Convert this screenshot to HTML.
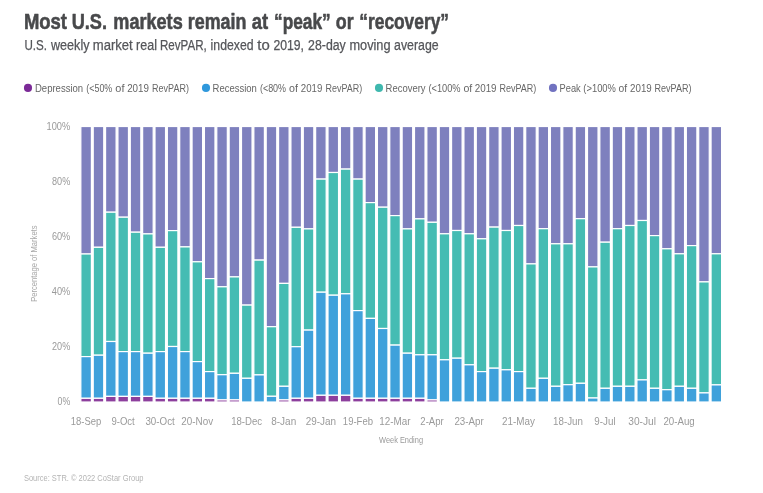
<!DOCTYPE html>
<html><head><meta charset="utf-8"><title>Most U.S. markets remain at peak or recovery</title>
<style>
html,body{margin:0;padding:0;background:#fff;}
body{width:763px;height:493px;overflow:hidden;font-family:"Liberation Sans",sans-serif;}
svg{display:block;filter:blur(0.3px);font-family:"Liberation Sans",sans-serif;}
</style></head><body>
<svg width="763" height="493" viewBox="0 0 763 493">
<rect x="0" y="0" width="763" height="493" fill="#ffffff"/>
<g stroke="#48494b" stroke-width="0.55" stroke-linejoin="round">
<text x="23.91" y="28.55" font-size="21.8" font-weight="bold" fill="#48494b" text-anchor="start" textLength="43.11" lengthAdjust="spacingAndGlyphs">Most</text>
<text x="71.71" y="28.55" font-size="21.8" font-weight="bold" fill="#48494b" text-anchor="start" textLength="35.31" lengthAdjust="spacingAndGlyphs">U.S.</text>
<text x="113.31" y="28.55" font-size="21.8" font-weight="bold" fill="#48494b" text-anchor="start" textLength="69.41" lengthAdjust="spacingAndGlyphs">markets</text>
<text x="187.81" y="28.55" font-size="21.8" font-weight="bold" fill="#48494b" text-anchor="start" textLength="58.61" lengthAdjust="spacingAndGlyphs">remain</text>
<text x="251.71" y="28.55" font-size="21.8" font-weight="bold" fill="#48494b" text-anchor="start" textLength="16.41" lengthAdjust="spacingAndGlyphs">at</text>
<text x="274.01" y="28.55" font-size="21.8" font-weight="bold" fill="#48494b" text-anchor="start" textLength="56.71" lengthAdjust="spacingAndGlyphs">“peak”</text>
<text x="335.81" y="28.55" font-size="21.8" font-weight="bold" fill="#48494b" text-anchor="start" textLength="17.81" lengthAdjust="spacingAndGlyphs">or</text>
<text x="359.31" y="28.55" font-size="21.8" font-weight="bold" fill="#48494b" text-anchor="start" textLength="89.71" lengthAdjust="spacingAndGlyphs">“recovery”</text>
</g>
<g stroke="#55565a" stroke-width="0.25">
<text x="24.51" y="49.5" font-size="13.8" font-weight="normal" fill="#55565a" text-anchor="start" textLength="22.54" lengthAdjust="spacingAndGlyphs">U.S.</text>
<text x="51.01" y="49.5" font-size="13.8" font-weight="normal" fill="#55565a" text-anchor="start" textLength="38.53" lengthAdjust="spacingAndGlyphs">weekly</text>
<text x="92.81" y="49.5" font-size="13.8" font-weight="normal" fill="#55565a" text-anchor="start" textLength="39.93" lengthAdjust="spacingAndGlyphs">market</text>
<text x="136.11" y="49.5" font-size="13.8" font-weight="normal" fill="#55565a" text-anchor="start" textLength="20.84" lengthAdjust="spacingAndGlyphs">real</text>
<text x="160.01" y="49.5" font-size="13.8" font-weight="normal" fill="#55565a" text-anchor="start" textLength="46.73" lengthAdjust="spacingAndGlyphs">RevPAR,</text>
<text x="210.61" y="49.5" font-size="13.8" font-weight="normal" fill="#55565a" text-anchor="start" textLength="42.93" lengthAdjust="spacingAndGlyphs">indexed</text>
<text x="257.31" y="49.5" font-size="13.8" font-weight="normal" fill="#55565a" text-anchor="start" textLength="12.44" lengthAdjust="spacingAndGlyphs">to</text>
<text x="273.41" y="49.5" font-size="13.8" font-weight="normal" fill="#55565a" text-anchor="start" textLength="30.54" lengthAdjust="spacingAndGlyphs">2019,</text>
<text x="308.11" y="49.5" font-size="13.8" font-weight="normal" fill="#55565a" text-anchor="start" textLength="37.63" lengthAdjust="spacingAndGlyphs">28-day</text>
<text x="349.41" y="49.5" font-size="13.8" font-weight="normal" fill="#55565a" text-anchor="start" textLength="41.13" lengthAdjust="spacingAndGlyphs">moving</text>
<text x="394.11" y="49.5" font-size="13.8" font-weight="normal" fill="#55565a" text-anchor="start" textLength="44.53" lengthAdjust="spacingAndGlyphs">average</text>
</g>
<g>
<circle cx="28.0" cy="87.9" r="4.05" fill="#7b2a97"/>
<text x="34.95" y="91.7" font-size="11" font-weight="normal" fill="#666666" text-anchor="start" textLength="48.23" lengthAdjust="spacingAndGlyphs">Depression</text>
<text x="86.25" y="91.7" font-size="11" font-weight="normal" fill="#666666" text-anchor="start" textLength="26.02" lengthAdjust="spacingAndGlyphs">(&lt;50%</text>
<text x="115.35" y="91.7" font-size="11" font-weight="normal" fill="#666666" text-anchor="start" textLength="9.12" lengthAdjust="spacingAndGlyphs">of</text>
<text x="127.15" y="91.7" font-size="11" font-weight="normal" fill="#666666" text-anchor="start" textLength="21.82" lengthAdjust="spacingAndGlyphs">2019</text>
<text x="152.05" y="91.7" font-size="11" font-weight="normal" fill="#666666" text-anchor="start" textLength="36.83" lengthAdjust="spacingAndGlyphs">RevPAR)</text>
<circle cx="206.0" cy="87.9" r="4.05" fill="#2f98dc"/>
<text x="212.55" y="91.7" font-size="11" font-weight="normal" fill="#666666" text-anchor="start" textLength="44.33" lengthAdjust="spacingAndGlyphs">Recession</text>
<text x="259.95" y="91.7" font-size="11" font-weight="normal" fill="#666666" text-anchor="start" textLength="26.12" lengthAdjust="spacingAndGlyphs">(&lt;80%</text>
<text x="289.05" y="91.7" font-size="11" font-weight="normal" fill="#666666" text-anchor="start" textLength="8.92" lengthAdjust="spacingAndGlyphs">of</text>
<text x="300.85" y="91.7" font-size="11" font-weight="normal" fill="#666666" text-anchor="start" textLength="21.52" lengthAdjust="spacingAndGlyphs">2019</text>
<text x="325.45" y="91.7" font-size="11" font-weight="normal" fill="#666666" text-anchor="start" textLength="36.73" lengthAdjust="spacingAndGlyphs">RevPAR)</text>
<circle cx="379.0" cy="87.9" r="4.05" fill="#3fb8ae"/>
<text x="385.55" y="91.7" font-size="11" font-weight="normal" fill="#666666" text-anchor="start" textLength="40.03" lengthAdjust="spacingAndGlyphs">Recovery</text>
<text x="428.45" y="91.7" font-size="11" font-weight="normal" fill="#666666" text-anchor="start" textLength="32.12" lengthAdjust="spacingAndGlyphs">(&lt;100%</text>
<text x="463.45" y="91.7" font-size="11" font-weight="normal" fill="#666666" text-anchor="start" textLength="8.82" lengthAdjust="spacingAndGlyphs">of</text>
<text x="474.75" y="91.7" font-size="11" font-weight="normal" fill="#666666" text-anchor="start" textLength="21.82" lengthAdjust="spacingAndGlyphs">2019</text>
<text x="499.45" y="91.7" font-size="11" font-weight="normal" fill="#666666" text-anchor="start" textLength="36.83" lengthAdjust="spacingAndGlyphs">RevPAR)</text>
<circle cx="553.0" cy="87.9" r="4.05" fill="#7172c0"/>
<text x="559.55" y="91.7" font-size="11" font-weight="normal" fill="#666666" text-anchor="start" textLength="21.12" lengthAdjust="spacingAndGlyphs">Peak</text>
<text x="583.35" y="91.7" font-size="11" font-weight="normal" fill="#666666" text-anchor="start" textLength="32.52" lengthAdjust="spacingAndGlyphs">(&gt;100%</text>
<text x="618.45" y="91.7" font-size="11" font-weight="normal" fill="#666666" text-anchor="start" textLength="8.62" lengthAdjust="spacingAndGlyphs">of</text>
<text x="630.05" y="91.7" font-size="11" font-weight="normal" fill="#666666" text-anchor="start" textLength="21.72" lengthAdjust="spacingAndGlyphs">2019</text>
<text x="654.55" y="91.7" font-size="11" font-weight="normal" fill="#666666" text-anchor="start" textLength="36.93" lengthAdjust="spacingAndGlyphs">RevPAR)</text>
</g>
<g stroke="#ffffff" stroke-width="1.2">
<rect x="80.85" y="126.5" width="10.55" height="127.5" fill="#7e80be"/><rect x="80.85" y="254.0" width="10.55" height="102.6" fill="#45bcb3"/><rect x="80.85" y="356.6" width="10.55" height="41.7" fill="#3fa1db"/><rect x="80.85" y="398.3" width="10.55" height="3.7" fill="#8d3f9d"/>
<rect x="93.21" y="126.5" width="10.55" height="120.8" fill="#7e80be"/><rect x="93.21" y="247.3" width="10.55" height="107.9" fill="#45bcb3"/><rect x="93.21" y="355.2" width="10.55" height="43.1" fill="#3fa1db"/><rect x="93.21" y="398.3" width="10.55" height="3.7" fill="#8d3f9d"/>
<rect x="105.56" y="126.5" width="10.55" height="85.7" fill="#7e80be"/><rect x="105.56" y="212.2" width="10.55" height="129.3" fill="#45bcb3"/><rect x="105.56" y="341.5" width="10.55" height="54.9" fill="#3fa1db"/><rect x="105.56" y="396.4" width="10.55" height="5.6" fill="#8d3f9d"/>
<rect x="117.92" y="126.5" width="10.55" height="90.7" fill="#7e80be"/><rect x="117.92" y="217.2" width="10.55" height="134.4" fill="#45bcb3"/><rect x="117.92" y="351.6" width="10.55" height="44.8" fill="#3fa1db"/><rect x="117.92" y="396.4" width="10.55" height="5.6" fill="#8d3f9d"/>
<rect x="130.28" y="126.5" width="10.55" height="105.7" fill="#7e80be"/><rect x="130.28" y="232.2" width="10.55" height="119.4" fill="#45bcb3"/><rect x="130.28" y="351.6" width="10.55" height="44.8" fill="#3fa1db"/><rect x="130.28" y="396.4" width="10.55" height="5.6" fill="#8d3f9d"/>
<rect x="142.63" y="126.5" width="10.55" height="107.4" fill="#7e80be"/><rect x="142.63" y="233.9" width="10.55" height="119.3" fill="#45bcb3"/><rect x="142.63" y="353.2" width="10.55" height="43.2" fill="#3fa1db"/><rect x="142.63" y="396.4" width="10.55" height="5.6" fill="#8d3f9d"/>
<rect x="154.99" y="126.5" width="10.55" height="120.8" fill="#7e80be"/><rect x="154.99" y="247.3" width="10.55" height="104.3" fill="#45bcb3"/><rect x="154.99" y="351.6" width="10.55" height="46.7" fill="#3fa1db"/><rect x="154.99" y="398.3" width="10.55" height="3.7" fill="#8d3f9d"/>
<rect x="167.35" y="126.5" width="10.55" height="104.1" fill="#7e80be"/><rect x="167.35" y="230.6" width="10.55" height="115.9" fill="#45bcb3"/><rect x="167.35" y="346.5" width="10.55" height="51.8" fill="#3fa1db"/><rect x="167.35" y="398.3" width="10.55" height="3.7" fill="#8d3f9d"/>
<rect x="179.71" y="126.5" width="10.55" height="120.4" fill="#7e80be"/><rect x="179.71" y="246.9" width="10.55" height="104.7" fill="#45bcb3"/><rect x="179.71" y="351.6" width="10.55" height="46.7" fill="#3fa1db"/><rect x="179.71" y="398.3" width="10.55" height="3.7" fill="#8d3f9d"/>
<rect x="192.06" y="126.5" width="10.55" height="135.3" fill="#7e80be"/><rect x="192.06" y="261.8" width="10.55" height="99.8" fill="#45bcb3"/><rect x="192.06" y="361.6" width="10.55" height="36.7" fill="#3fa1db"/><rect x="192.06" y="398.3" width="10.55" height="3.7" fill="#8d3f9d"/>
<rect x="204.42" y="126.5" width="10.55" height="152.1" fill="#7e80be"/><rect x="204.42" y="278.6" width="10.55" height="93.0" fill="#45bcb3"/><rect x="204.42" y="371.6" width="10.55" height="26.7" fill="#3fa1db"/><rect x="204.42" y="398.3" width="10.55" height="3.7" fill="#8d3f9d"/>
<rect x="216.78" y="126.5" width="10.55" height="160.3" fill="#7e80be"/><rect x="216.78" y="286.8" width="10.55" height="87.9" fill="#45bcb3"/><rect x="216.78" y="374.7" width="10.55" height="25.2" fill="#3fa1db"/><rect x="216.78" y="399.9" width="10.55" height="2.1" fill="#8d3f9d"/>
<rect x="229.13" y="126.5" width="10.55" height="150.4" fill="#7e80be"/><rect x="229.13" y="276.9" width="10.55" height="96.4" fill="#45bcb3"/><rect x="229.13" y="373.3" width="10.55" height="26.6" fill="#3fa1db"/><rect x="229.13" y="399.9" width="10.55" height="2.1" fill="#8d3f9d"/>
<rect x="241.49" y="126.5" width="10.55" height="178.6" fill="#7e80be"/><rect x="241.49" y="305.1" width="10.55" height="73.2" fill="#45bcb3"/><rect x="241.49" y="378.3" width="10.55" height="23.7" fill="#3fa1db"/>
<rect x="253.85" y="126.5" width="10.55" height="133.6" fill="#7e80be"/><rect x="253.85" y="260.1" width="10.55" height="114.8" fill="#45bcb3"/><rect x="253.85" y="374.9" width="10.55" height="27.1" fill="#3fa1db"/>
<rect x="266.2" y="126.5" width="10.55" height="200.2" fill="#7e80be"/><rect x="266.2" y="326.7" width="10.55" height="69.6" fill="#45bcb3"/><rect x="266.2" y="396.3" width="10.55" height="5.7" fill="#3fa1db"/>
<rect x="278.56" y="126.5" width="10.55" height="156.9" fill="#7e80be"/><rect x="278.56" y="283.4" width="10.55" height="102.9" fill="#45bcb3"/><rect x="278.56" y="386.3" width="10.55" height="13.6" fill="#3fa1db"/><rect x="278.56" y="399.9" width="10.55" height="2.1" fill="#8d3f9d"/>
<rect x="290.92" y="126.5" width="10.55" height="100.8" fill="#7e80be"/><rect x="290.92" y="227.3" width="10.55" height="119.4" fill="#45bcb3"/><rect x="290.92" y="346.7" width="10.55" height="51.6" fill="#3fa1db"/><rect x="290.92" y="398.3" width="10.55" height="3.7" fill="#8d3f9d"/>
<rect x="303.28" y="126.5" width="10.55" height="102.4" fill="#7e80be"/><rect x="303.28" y="228.9" width="10.55" height="101.2" fill="#45bcb3"/><rect x="303.28" y="330.1" width="10.55" height="68.2" fill="#3fa1db"/><rect x="303.28" y="398.3" width="10.55" height="3.7" fill="#8d3f9d"/>
<rect x="315.63" y="126.5" width="10.55" height="52.6" fill="#7e80be"/><rect x="315.63" y="179.1" width="10.55" height="113.1" fill="#45bcb3"/><rect x="315.63" y="292.2" width="10.55" height="103.1" fill="#3fa1db"/><rect x="315.63" y="395.3" width="10.55" height="6.7" fill="#8d3f9d"/>
<rect x="327.99" y="126.5" width="10.55" height="46.0" fill="#7e80be"/><rect x="327.99" y="172.5" width="10.55" height="122.7" fill="#45bcb3"/><rect x="327.99" y="295.2" width="10.55" height="100.1" fill="#3fa1db"/><rect x="327.99" y="395.3" width="10.55" height="6.7" fill="#8d3f9d"/>
<rect x="340.35" y="126.5" width="10.55" height="42.6" fill="#7e80be"/><rect x="340.35" y="169.1" width="10.55" height="124.7" fill="#45bcb3"/><rect x="340.35" y="293.8" width="10.55" height="101.5" fill="#3fa1db"/><rect x="340.35" y="395.3" width="10.55" height="6.7" fill="#8d3f9d"/>
<rect x="352.7" y="126.5" width="10.55" height="52.6" fill="#7e80be"/><rect x="352.7" y="179.1" width="10.55" height="131.5" fill="#45bcb3"/><rect x="352.7" y="310.6" width="10.55" height="87.7" fill="#3fa1db"/><rect x="352.7" y="398.3" width="10.55" height="3.7" fill="#8d3f9d"/>
<rect x="365.06" y="126.5" width="10.55" height="76.1" fill="#7e80be"/><rect x="365.06" y="202.6" width="10.55" height="115.8" fill="#45bcb3"/><rect x="365.06" y="318.4" width="10.55" height="79.9" fill="#3fa1db"/><rect x="365.06" y="398.3" width="10.55" height="3.7" fill="#8d3f9d"/>
<rect x="377.42" y="126.5" width="10.55" height="80.7" fill="#7e80be"/><rect x="377.42" y="207.2" width="10.55" height="121.3" fill="#45bcb3"/><rect x="377.42" y="328.5" width="10.55" height="69.8" fill="#3fa1db"/><rect x="377.42" y="398.3" width="10.55" height="3.7" fill="#8d3f9d"/>
<rect x="389.77" y="126.5" width="10.55" height="89.1" fill="#7e80be"/><rect x="389.77" y="215.6" width="10.55" height="129.5" fill="#45bcb3"/><rect x="389.77" y="345.1" width="10.55" height="53.2" fill="#3fa1db"/><rect x="389.77" y="398.3" width="10.55" height="3.7" fill="#8d3f9d"/>
<rect x="402.13" y="126.5" width="10.55" height="102.4" fill="#7e80be"/><rect x="402.13" y="228.9" width="10.55" height="124.3" fill="#45bcb3"/><rect x="402.13" y="353.2" width="10.55" height="45.1" fill="#3fa1db"/><rect x="402.13" y="398.3" width="10.55" height="3.7" fill="#8d3f9d"/>
<rect x="414.49" y="126.5" width="10.55" height="92.4" fill="#7e80be"/><rect x="414.49" y="218.9" width="10.55" height="135.9" fill="#45bcb3"/><rect x="414.49" y="354.8" width="10.55" height="43.5" fill="#3fa1db"/><rect x="414.49" y="398.3" width="10.55" height="3.7" fill="#8d3f9d"/>
<rect x="426.85" y="126.5" width="10.55" height="95.8" fill="#7e80be"/><rect x="426.85" y="222.3" width="10.55" height="132.5" fill="#45bcb3"/><rect x="426.85" y="354.8" width="10.55" height="45.1" fill="#3fa1db"/><rect x="426.85" y="399.9" width="10.55" height="2.1" fill="#8d3f9d"/>
<rect x="439.2" y="126.5" width="10.55" height="107.3" fill="#7e80be"/><rect x="439.2" y="233.8" width="10.55" height="126.0" fill="#45bcb3"/><rect x="439.2" y="359.8" width="10.55" height="42.2" fill="#3fa1db"/>
<rect x="451.56" y="126.5" width="10.55" height="104.0" fill="#7e80be"/><rect x="451.56" y="230.5" width="10.55" height="127.7" fill="#45bcb3"/><rect x="451.56" y="358.2" width="10.55" height="43.8" fill="#3fa1db"/>
<rect x="463.92" y="126.5" width="10.55" height="107.3" fill="#7e80be"/><rect x="463.92" y="233.8" width="10.55" height="131.0" fill="#45bcb3"/><rect x="463.92" y="364.8" width="10.55" height="37.2" fill="#3fa1db"/>
<rect x="476.27" y="126.5" width="10.55" height="112.3" fill="#7e80be"/><rect x="476.27" y="238.8" width="10.55" height="132.8" fill="#45bcb3"/><rect x="476.27" y="371.6" width="10.55" height="30.4" fill="#3fa1db"/>
<rect x="488.63" y="126.5" width="10.55" height="100.6" fill="#7e80be"/><rect x="488.63" y="227.1" width="10.55" height="141.1" fill="#45bcb3"/><rect x="488.63" y="368.2" width="10.55" height="33.8" fill="#3fa1db"/>
<rect x="500.99" y="126.5" width="10.55" height="104.0" fill="#7e80be"/><rect x="500.99" y="230.5" width="10.55" height="139.3" fill="#45bcb3"/><rect x="500.99" y="369.8" width="10.55" height="32.2" fill="#3fa1db"/>
<rect x="513.35" y="126.5" width="10.55" height="99.0" fill="#7e80be"/><rect x="513.35" y="225.5" width="10.55" height="146.1" fill="#45bcb3"/><rect x="513.35" y="371.6" width="10.55" height="30.4" fill="#3fa1db"/>
<rect x="525.7" y="126.5" width="10.55" height="137.4" fill="#7e80be"/><rect x="525.7" y="263.9" width="10.55" height="124.4" fill="#45bcb3"/><rect x="525.7" y="388.3" width="10.55" height="13.7" fill="#3fa1db"/>
<rect x="538.06" y="126.5" width="10.55" height="102.2" fill="#7e80be"/><rect x="538.06" y="228.7" width="10.55" height="149.6" fill="#45bcb3"/><rect x="538.06" y="378.3" width="10.55" height="23.7" fill="#3fa1db"/>
<rect x="550.42" y="126.5" width="10.55" height="117.3" fill="#7e80be"/><rect x="550.42" y="243.8" width="10.55" height="142.5" fill="#45bcb3"/><rect x="550.42" y="386.3" width="10.55" height="15.7" fill="#3fa1db"/>
<rect x="562.77" y="126.5" width="10.55" height="117.3" fill="#7e80be"/><rect x="562.77" y="243.8" width="10.55" height="140.9" fill="#45bcb3"/><rect x="562.77" y="384.7" width="10.55" height="17.3" fill="#3fa1db"/>
<rect x="575.13" y="126.5" width="10.55" height="92.2" fill="#7e80be"/><rect x="575.13" y="218.7" width="10.55" height="164.6" fill="#45bcb3"/><rect x="575.13" y="383.3" width="10.55" height="18.7" fill="#3fa1db"/>
<rect x="587.49" y="126.5" width="10.55" height="140.4" fill="#7e80be"/><rect x="587.49" y="266.9" width="10.55" height="131.1" fill="#45bcb3"/><rect x="587.49" y="398" width="10.55" height="4.0" fill="#3fa1db"/>
<rect x="599.84" y="126.5" width="10.55" height="115.7" fill="#7e80be"/><rect x="599.84" y="242.2" width="10.55" height="146.1" fill="#45bcb3"/><rect x="599.84" y="388.3" width="10.55" height="13.7" fill="#3fa1db"/>
<rect x="612.2" y="126.5" width="10.55" height="102.2" fill="#7e80be"/><rect x="612.2" y="228.7" width="10.55" height="157.6" fill="#45bcb3"/><rect x="612.2" y="386.3" width="10.55" height="15.7" fill="#3fa1db"/>
<rect x="624.56" y="126.5" width="10.55" height="99.0" fill="#7e80be"/><rect x="624.56" y="225.5" width="10.55" height="160.8" fill="#45bcb3"/><rect x="624.56" y="386.3" width="10.55" height="15.7" fill="#3fa1db"/>
<rect x="636.91" y="126.5" width="10.55" height="94.0" fill="#7e80be"/><rect x="636.91" y="220.5" width="10.55" height="159.4" fill="#45bcb3"/><rect x="636.91" y="379.9" width="10.55" height="22.1" fill="#3fa1db"/>
<rect x="649.27" y="126.5" width="10.55" height="109.1" fill="#7e80be"/><rect x="649.27" y="235.6" width="10.55" height="152.7" fill="#45bcb3"/><rect x="649.27" y="388.3" width="10.55" height="13.7" fill="#3fa1db"/>
<rect x="661.63" y="126.5" width="10.55" height="122.3" fill="#7e80be"/><rect x="661.63" y="248.8" width="10.55" height="140.9" fill="#45bcb3"/><rect x="661.63" y="389.7" width="10.55" height="12.3" fill="#3fa1db"/>
<rect x="673.99" y="126.5" width="10.55" height="127.3" fill="#7e80be"/><rect x="673.99" y="253.8" width="10.55" height="132.5" fill="#45bcb3"/><rect x="673.99" y="386.3" width="10.55" height="15.7" fill="#3fa1db"/>
<rect x="686.34" y="126.5" width="10.55" height="119.1" fill="#7e80be"/><rect x="686.34" y="245.6" width="10.55" height="142.7" fill="#45bcb3"/><rect x="686.34" y="388.3" width="10.55" height="13.7" fill="#3fa1db"/>
<rect x="698.7" y="126.5" width="10.55" height="155.4" fill="#7e80be"/><rect x="698.7" y="281.9" width="10.55" height="111.0" fill="#45bcb3"/><rect x="698.7" y="392.9" width="10.55" height="9.1" fill="#3fa1db"/>
<rect x="711.06" y="126.5" width="10.55" height="127.3" fill="#7e80be"/><rect x="711.06" y="253.8" width="10.55" height="131.1" fill="#45bcb3"/><rect x="711.06" y="384.9" width="10.55" height="17.1" fill="#3fa1db"/>
</g>
<g>
<text x="46.55" y="129.9" font-size="11" font-weight="normal" fill="#9a9a9a" text-anchor="start" textLength="23.72" lengthAdjust="spacingAndGlyphs">100%</text>
<text x="52.05" y="184.9" font-size="11" font-weight="normal" fill="#9a9a9a" text-anchor="start" textLength="18.22" lengthAdjust="spacingAndGlyphs">80%</text>
<text x="51.95" y="239.8" font-size="11" font-weight="normal" fill="#9a9a9a" text-anchor="start" textLength="18.32" lengthAdjust="spacingAndGlyphs">60%</text>
<text x="51.85" y="294.8" font-size="11" font-weight="normal" fill="#9a9a9a" text-anchor="start" textLength="18.43" lengthAdjust="spacingAndGlyphs">40%</text>
<text x="52.05" y="349.7" font-size="11" font-weight="normal" fill="#9a9a9a" text-anchor="start" textLength="18.22" lengthAdjust="spacingAndGlyphs">20%</text>
<text x="57.55" y="404.7" font-size="11" font-weight="normal" fill="#9a9a9a" text-anchor="start" textLength="12.72" lengthAdjust="spacingAndGlyphs">0%</text>
</g>
<text transform="translate(36.7,301.8) rotate(-90)" font-size="9" fill="#a8a8a8" textLength="76.3" lengthAdjust="spacingAndGlyphs">Percentage of Markets</text>
<g>
<text x="70.75" y="424.8" font-size="11" font-weight="normal" fill="#9a9a9a" text-anchor="start" textLength="30.52" lengthAdjust="spacingAndGlyphs">18-Sep</text>
<text x="111.45" y="424.8" font-size="11" font-weight="normal" fill="#9a9a9a" text-anchor="start" textLength="23.32" lengthAdjust="spacingAndGlyphs">9-Oct</text>
<text x="145.45" y="424.8" font-size="11" font-weight="normal" fill="#9a9a9a" text-anchor="start" textLength="29.32" lengthAdjust="spacingAndGlyphs">30-Oct</text>
<text x="181.35" y="424.8" font-size="11" font-weight="normal" fill="#9a9a9a" text-anchor="start" textLength="31.72" lengthAdjust="spacingAndGlyphs">20-Nov</text>
<text x="231.15" y="424.8" font-size="11" font-weight="normal" fill="#9a9a9a" text-anchor="start" textLength="30.93" lengthAdjust="spacingAndGlyphs">18-Dec</text>
<text x="271.25" y="424.8" font-size="11" font-weight="normal" fill="#9a9a9a" text-anchor="start" textLength="24.93" lengthAdjust="spacingAndGlyphs">8-Jan</text>
<text x="305.65" y="424.8" font-size="11" font-weight="normal" fill="#9a9a9a" text-anchor="start" textLength="30.32" lengthAdjust="spacingAndGlyphs">29-Jan</text>
<text x="342.85" y="424.8" font-size="11" font-weight="normal" fill="#9a9a9a" text-anchor="start" textLength="30.12" lengthAdjust="spacingAndGlyphs">19-Feb</text>
<text x="379.25" y="424.8" font-size="11" font-weight="normal" fill="#9a9a9a" text-anchor="start" textLength="31.32" lengthAdjust="spacingAndGlyphs">12-Mar</text>
<text x="420.35" y="424.8" font-size="11" font-weight="normal" fill="#9a9a9a" text-anchor="start" textLength="23.32" lengthAdjust="spacingAndGlyphs">2-Apr</text>
<text x="454.45" y="424.8" font-size="11" font-weight="normal" fill="#9a9a9a" text-anchor="start" textLength="29.32" lengthAdjust="spacingAndGlyphs">23-Apr</text>
<text x="502.05" y="424.8" font-size="11" font-weight="normal" fill="#9a9a9a" text-anchor="start" textLength="32.93" lengthAdjust="spacingAndGlyphs">21-May</text>
<text x="553.05" y="424.8" font-size="11" font-weight="normal" fill="#9a9a9a" text-anchor="start" textLength="29.82" lengthAdjust="spacingAndGlyphs">18-Jun</text>
<text x="594.35" y="424.8" font-size="11" font-weight="normal" fill="#9a9a9a" text-anchor="start" textLength="21.22" lengthAdjust="spacingAndGlyphs">9-Jul</text>
<text x="628.25" y="424.8" font-size="11" font-weight="normal" fill="#9a9a9a" text-anchor="start" textLength="27.72" lengthAdjust="spacingAndGlyphs">30-Jul</text>
<text x="663.45" y="424.8" font-size="11" font-weight="normal" fill="#9a9a9a" text-anchor="start" textLength="31.32" lengthAdjust="spacingAndGlyphs">20-Aug</text>
</g>
<text x="379.05" y="442.8" font-size="9" font-weight="normal" fill="#9a9a9a" text-anchor="start" textLength="43.97" lengthAdjust="spacingAndGlyphs">Week Ending</text>
<text x="23.92" y="481" font-size="9.5" font-weight="normal" fill="#b4b4b4" text-anchor="start" textLength="119.61" lengthAdjust="spacingAndGlyphs">Source: STR. © 2022 CoStar Group</text>
</svg>
</body></html>
